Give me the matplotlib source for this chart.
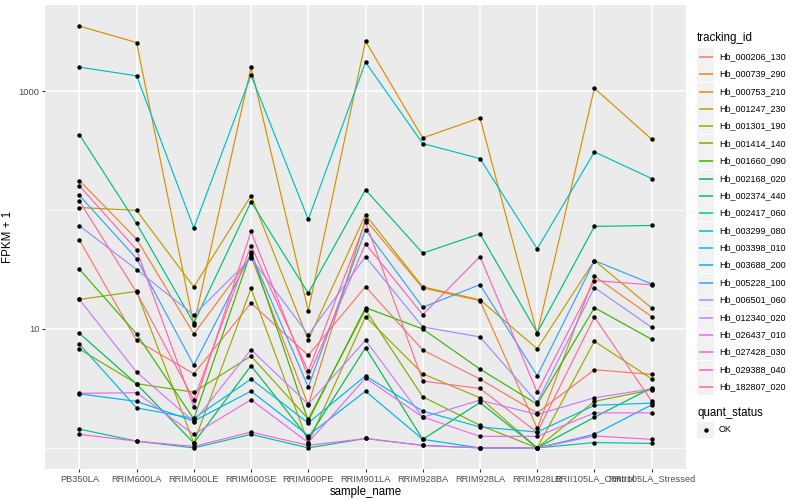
import numpy as np
import matplotlib.pyplot as plt
from matplotlib.patches import Rectangle
from matplotlib.lines import Line2D

plt.rcParams['font.family'] = ['Liberation Sans', 'DejaVu Sans']

# samples on the x axis
samples = ['PB350LA', 'RRIM600LA', 'RRIM600LE', 'RRIM600SE', 'RRIM600PE', 'RRIM901LA',
           'RRIM928BA', 'RRIM928LA', 'RRIM928LE', 'RRII105LA_Control', 'RRII105LA_Stressed']

# FPKM + 1, one list per gene (same order as samples)
hb_000206_130 = [56.2, 8.0, 4.2, 16.5, 6.0, 22.7, 6.65, 3.79, 1.97, 4.54, 4.15]
hb_000739_290 = [177, 57, 9.08, 40.6, 2.29, 82.9, 22.1, 17.3, 1.46, 27.8, 12.7]
hb_000753_210 = [3520, 2560, 10.8, 1580, 14.2, 2630, 404, 596, 9.1, 1058, 393]
hb_001247_230 = [105, 99.3, 22.6, 132, 8.08, 91.3, 22.6, 17.6, 6.82, 37.6, 15.0]
hb_001301_190 = [17.7, 20.7, 1.10, 21.9, 1.10, 12.7, 4.2, 2.64, 1.0, 7.88, 3.81]
hb_001414_140 = [6.78, 3.47, 2.94, 5.92, 1.75, 14.5, 2.69, 1.55, 1.0, 2.46, 3.08]
hb_001660_090 = [31.8, 9.08, 1.75, 44.8, 1.68, 15.1, 10.0, 4.6, 2.33, 15.1, 8.19]
hb_002168_020 = [9.2, 3.45, 1.10, 4.91, 1.21, 6.96, 1.18, 2.41, 1.0, 1.81, 3.2]
hb_002374_440 = [431, 77.1, 11.2, 117.5, 20.0, 148, 43.4, 63.1, 9.3, 72.8, 74.2]
hb_002417_060 = [1.44, 1.14, 1.0, 1.30, 1.0, 1.2, 1.05, 1.0, 1.0, 1.11, 1.09]
hb_003299_080 = [1590, 1345, 70.5, 1361, 83.4, 1750, 362, 271, 47.2, 308, 184]
hb_003398_010 = [7.47, 2.17, 1.77, 3.79, 1.62, 4.04, 2.04, 1.50, 1.36, 2.28, 2.38]
hb_003688_200 = [2.85, 2.46, 1.68, 3.0, 1.27, 3.0, 1.18, 1.0, 1.0, 1.30, 2.30]
hb_005228_100 = [133, 39.1, 4.97, 42.8, 3.25, 68.2, 15.2, 23.6, 4.04, 37.6, 23.9]
hb_006501_060 = [73.8, 31.6, 13.1, 39.4, 8.95, 40.6, 10.4, 8.57, 2.41, 22.3, 10.3]
hb_012340_020 = [17.7, 4.34, 1.66, 6.69, 2.33, 8.03, 1.81, 2.52, 1.91, 2.64, 3.14]
hb_026437_010 = [2.88, 2.91, 1.30, 2.54, 1.11, 3.87, 1.82, 1.25, 1.25, 1.97, 1.97]
hb_027428_030 = [1.30, 1.14, 1.03, 1.36, 1.05, 1.2, 1.05, 1.0, 1.0, 1.26, 1.18]
hb_029388_040 = [160, 46.3, 2.2, 66, 3.96, 52, 13.2, 40.6, 2.94, 25.5, 23.5]
hb_182807_020 = [119, 20.3, 2.54, 50.3, 4.4, 79.7, 3.65, 3.16, 1.35, 12.6, 2.47]

genes = ['Hb_000206_130', 'Hb_000739_290', 'Hb_000753_210', 'Hb_001247_230', 'Hb_001301_190',
         'Hb_001414_140', 'Hb_001660_090', 'Hb_002168_020', 'Hb_002374_440', 'Hb_002417_060',
         'Hb_003299_080', 'Hb_003398_010', 'Hb_003688_200', 'Hb_005228_100', 'Hb_006501_060',
         'Hb_012340_020', 'Hb_026437_010', 'Hb_027428_030', 'Hb_029388_040', 'Hb_182807_020']
values = [hb_000206_130, hb_000739_290, hb_000753_210, hb_001247_230, hb_001301_190,
          hb_001414_140, hb_001660_090, hb_002168_020, hb_002374_440, hb_002417_060,
          hb_003299_080, hb_003398_010, hb_003688_200, hb_005228_100, hb_006501_060,
          hb_012340_020, hb_026437_010, hb_027428_030, hb_029388_040, hb_182807_020]

# ggplot hue palette, 20 levels
colors = ['#F8766D', '#EA8331', '#D89000', '#C09B00', '#A3A500', '#7CAE00', '#39B600',
          '#00BB4E', '#00BF7D', '#00C1A3', '#00BFC4', '#00BAE0', '#00B0F6', '#35A2FF',
          '#9590FF', '#C77CFF', '#E76BF3', '#FA62DB', '#FF62BC', '#FF6C91']

W, H = 800, 500
fig = plt.figure(figsize=(8, 5), dpi=100)
ax = fig.add_axes([45 / W, 1 - 469 / H, (686 - 45) / W, (469 - 5) / H])
ax.set_facecolor('#EBEBEB')
for s in ax.spines.values():
    s.set_visible(False)

x = np.arange(len(samples))
for v, c in zip(values, colors):
    ax.plot(x, v, color=c, lw=0.85, zorder=3)
for v in values:
    ax.plot(x, v, 'o', color='black', ms=3.2, mew=0, zorder=4)

ax.set_yscale('log')
allv = np.log10(np.concatenate([np.array(v, float) for v in values]))
lo, hi = allv.min(), allv.max()
pad = 0.05 * (hi - lo)
ax.set_ylim(10 ** (lo - pad), 10 ** (hi + pad))
ax.set_xlim(-0.6, len(samples) - 1 + 0.6)

ax.set_yticks([10, 1000])
ax.set_yticklabels(['10', '1000'])
ax.set_yticks([1, 100], minor=True)
ax.set_yticklabels([], minor=True)
ax.set_xticks(x)
ax.set_xticklabels(samples)

ax.grid(which='major', color='white', lw=1.1, zorder=1)
ax.grid(which='minor', axis='y', color='white', lw=0.55, zorder=1)
ax.set_axisbelow(True)
ax.tick_params(which='major', color='#333333', length=2.5, width=0.8,
               labelsize=6.7, labelcolor='#4D4D4D', pad=1.5)
ax.tick_params(which='minor', length=0)

ax.set_xlabel('sample_name', fontsize=8.3, labelpad=1.5)
ax.set_ylabel('FPKM + 1', fontsize=8.3, labelpad=3)

# legend: tracking_id
def fx(px):
    return px / W

def fy(py):
    return 1 - py / H

fig.text(fx(697), fy(38), 'tracking_id', fontsize=8.3, va='center', ha='left')
step = 17.37
for i, (g, c) in enumerate(zip(genes, colors)):
    yc = round(56 + i * step) + 0.5
    fig.patches.append(Rectangle((fx(697), fy(yc + 8.3)), 17 / W, 16.6 / H,
                                 transform=fig.transFigure, color='#F2F2F2', lw=0, zorder=1))
    fig.lines.append(Line2D([fx(699), fx(713)], [fy(yc), fy(yc)],
                            transform=fig.transFigure, color=c, lw=1.1, zorder=2,
                            solid_capstyle='butt'))
    fig.text(fx(719), fy(yc), g, fontsize=6.5, va='center', ha='left')

# legend: quant_status
fig.text(fx(697), fy(413), 'quant_status', fontsize=8.3, va='center', ha='left')
fig.patches.append(Rectangle((fx(697), fy(438.3)), 17 / W, 16.6 / H,
                             transform=fig.transFigure, color='#F2F2F2', lw=0, zorder=1))
fig.lines.append(Line2D([fx(705.5)], [fy(430)], transform=fig.transFigure,
                        marker='o', color='black', ms=3.2, mew=0, ls='none', zorder=2))
fig.text(fx(719), fy(430), 'OK', fontsize=6.5, va='center', ha='left')

fig.savefig('out.png', dpi=100)
